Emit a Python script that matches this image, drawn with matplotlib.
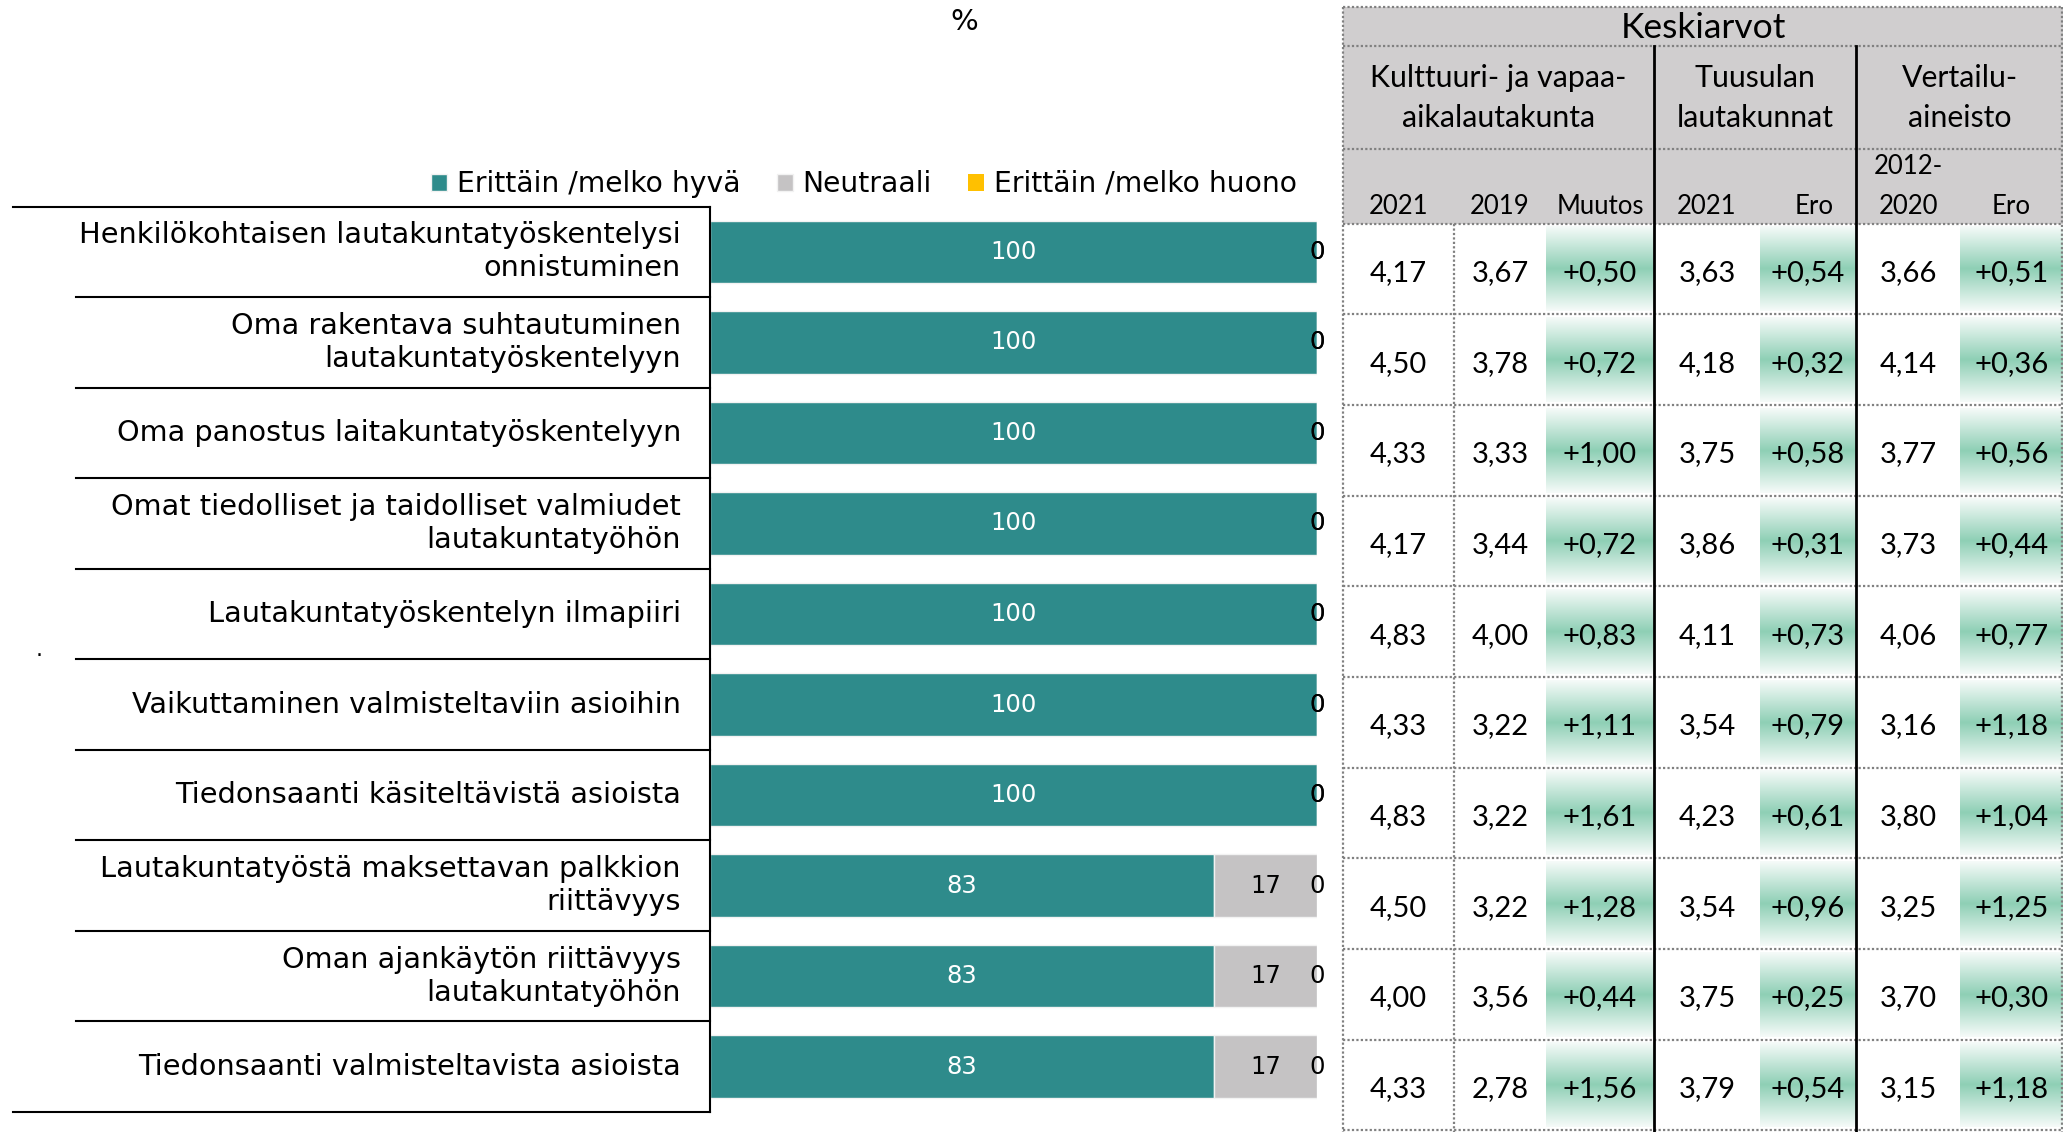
import numpy as np
import matplotlib
matplotlib.use("Agg")
import matplotlib.pyplot as plt
from matplotlib.patches import Rectangle
from matplotlib.colors import LinearSegmentedColormap
import matplotlib.transforms as mtransforms

W, H = 2063, 1132

# ---- data ----
categories = [
    "Henkilökohtaisen lautakuntatyöskentelysi\nonnistuminen",
    "Oma rakentava suhtautuminen\nlautakuntatyöskentelyyn",
    "Oma panostus laitakuntatyöskentelyyn",
    "Omat tiedolliset ja taidolliset valmiudet\nlautakuntatyöhön",
    "Lautakuntatyöskentelyn ilmapiiri",
    "Vaikuttaminen valmisteltaviin asioihin",
    "Tiedonsaanti käsiteltävistä asioista",
    "Lautakuntatyöstä maksettavan palkkion\nriittävyys",
    "Oman ajankäytön riittävyys\nlautakuntatyöhön",
    "Tiedonsaanti valmisteltavista asioista",
]
good = [100, 100, 100, 100, 100, 100, 100, 83, 83, 83]
neutral = [0, 0, 0, 0, 0, 0, 0, 17, 17, 17]
bad = [0, 0, 0, 0, 0, 0, 0, 0, 0, 0]
series_names = ["Erittäin /melko hyvä", "Neutraali", "Erittäin /melko huono"]

kult_2021 = ["4,17", "4,50", "4,33", "4,17", "4,83", "4,33", "4,83", "4,50", "4,00", "4,33"]
kult_2019 = ["3,67", "3,78", "3,33", "3,44", "4,00", "3,22", "3,22", "3,22", "3,56", "2,78"]
kult_muutos = ["+0,50", "+0,72", "+1,00", "+0,72", "+0,83", "+1,11", "+1,61", "+1,28", "+0,44", "+1,56"]
tuus_2021 = ["3,63", "4,18", "3,75", "3,86", "4,11", "3,54", "4,23", "3,54", "3,75", "3,79"]
tuus_ero = ["+0,54", "+0,32", "+0,58", "+0,31", "+0,73", "+0,79", "+0,61", "+0,96", "+0,25", "+0,54"]
vert_2012 = ["3,66", "4,14", "3,77", "3,73", "4,06", "3,16", "3,80", "3,25", "3,70", "3,15"]
vert_ero = ["+0,51", "+0,36", "+0,56", "+0,44", "+0,77", "+1,18", "+1,04", "+1,25", "+0,30", "+1,18"]

col_heads = ["2021", "2019", "Muutos", "2021", "Ero", "2012-\n2020", "Ero"]
group_heads = ["Kulttuuri- ja vapaa-\naikalautakunta", "Tuusulan\nlautakunnat", "Vertailu-\naineisto"]

TEAL = "#2e8b8b"
GRAY = "#c5c3c4"
YEL = "#ffc000"

fig = plt.figure(figsize=(W / 100, H / 100), dpi=100)

# ---- bar chart ----
ax = fig.add_axes([710 / W, (H - 1112) / H, 607 / W, 905.4 / H])
y = np.arange(len(categories))
b1 = ax.barh(y, good, height=0.69, color=TEAL, edgecolor="#f2f2f2", linewidth=1, label=series_names[0])
b2 = ax.barh(y, neutral, left=good, height=0.69, color=GRAY, edgecolor="#f2f2f2", linewidth=1, label=series_names[1])
left3 = [g + n for g, n in zip(good, neutral)]
b3 = ax.barh(y, bad, left=left3, height=0.69, color=YEL, edgecolor="none", label=series_names[2])
ax.bar_label(b1, label_type="center", color="white", fontsize=17.5)
ax.bar_label(b2, label_type="center", color="black", fontsize=17.5)
ax.bar_label(b3, label_type="center", color="black", fontsize=17.5)
ax.set_xlim(0, 100)
ax.set_ylim(9.5, -0.5)
ax.set_xticks([])
ax.set_yticks([])
for s in ["top", "right", "bottom"]:
    ax.spines[s].set_visible(False)
ax.spines["left"].set_linewidth(1.5)
ax.spines["left"].set_color("black")

trans = mtransforms.blended_transform_factory(fig.transFigure, ax.transData)
for i, c in enumerate(categories):
    ax.text(681 / W, i, c, transform=trans, ha="right", va="center",
            fontsize=20.7, linespacing=1.22)
for k in range(11):
    x0 = 13 / W if k in (0, 10) else 76 / W
    ax.plot([x0, 710 / W], [k - 0.5, k - 0.5], transform=trans, color="black",
            lw=1.5, clip_on=False)

fig.legend(handles=[b1, b2, b3], labels=series_names, ncol=3, loc="center",
           bbox_to_anchor=(864 / W, 1 - 184 / H), frameon=False, fontsize=20.3,
           handlelength=0.55, handleheight=0.55, handletextpad=0.35, columnspacing=1.3)

fig.text(964 / W, 1 - 22 / H, "%", ha="center", va="center", fontsize=21)
fig.text(39 / W, 1 - 650 / H, ".", ha="center", va="center", fontsize=16)

# ---- table (pixel coordinates) ----
tx = fig.add_axes([0, 0, 1, 1], zorder=-1)
tx.set_axis_off()
cols = [1343, 1454, 1546, 1654, 1760, 1856, 1960, 2063]
hdr = [6.6, 46, 148.7, 223.7]
rows = [223.7 + 90.65 * k for k in range(11)]
TF = "Lato"

tx.add_patch(Rectangle((cols[0], hdr[0]), cols[-1] - cols[0], hdr[3] - hdr[0],
                       facecolor="#d0cecf", edgecolor="none"))

cmap = LinearSegmentedColormap.from_list("g", ["#f6fbf9", "#8ecfb5", "#f6fbf9"])
grad = np.linspace(0, 1, 128).reshape(-1, 1)
for r in range(10):
    for c in (2, 4, 6):
        tx.imshow(grad, cmap=cmap, aspect="auto", interpolation="bilinear",
                  extent=[cols[c], cols[c + 1], rows[r + 1] - 3, rows[r] + 3])

dot = dict(color="#808080", lw=1.6, linestyle=(0, (1, 1)))
for yy in hdr + rows[1:]:
    tx.plot([cols[0], cols[-1]], [yy, yy], **dot)
tx.plot([cols[0], cols[0]], [hdr[0], H], **dot)
tx.plot([cols[1], cols[1]], [rows[0], H], **dot)
tx.plot([W - 1, W - 1], [hdr[0], H], **dot)
for xx in (cols[3], cols[5]):
    tx.plot([xx, xx], [hdr[1], H], color="black", lw=2)

tx.text((cols[0] + cols[-1]) / 2, 28, "Keskiarvot", ha="center", va="center",
        fontsize=25.5, family=TF)
gx = [(cols[0] + cols[3]) / 2, (cols[3] + cols[5]) / 2, (cols[5] + cols[7]) / 2]
for x, t in zip(gx, group_heads):
    tx.text(x, 98, t, ha="center", va="center", fontsize=21.8, family=TF, linespacing=1.55)
for c, t in enumerate(col_heads):
    xc = (cols[c] + cols[c + 1]) / 2
    if c == 4:
        xc += 6
    tx.text(xc, 219, t, ha="center", va="bottom", fontsize=18.5, family=TF, linespacing=1.75)

table_cols = [kult_2021, kult_2019, kult_muutos, tuus_2021, tuus_ero, vert_2012, vert_ero]
for c, vals in enumerate(table_cols):
    xc = (cols[c] + cols[c + 1]) / 2
    for r, v in enumerate(vals):
        tx.text(xc, (rows[r] + rows[r + 1]) / 2 + 4, v, ha="center", va="center",
                fontsize=21, family=TF)

tx.set_xlim(0, W)
tx.set_ylim(H, 0)

fig.savefig("out.png", dpi=100)
